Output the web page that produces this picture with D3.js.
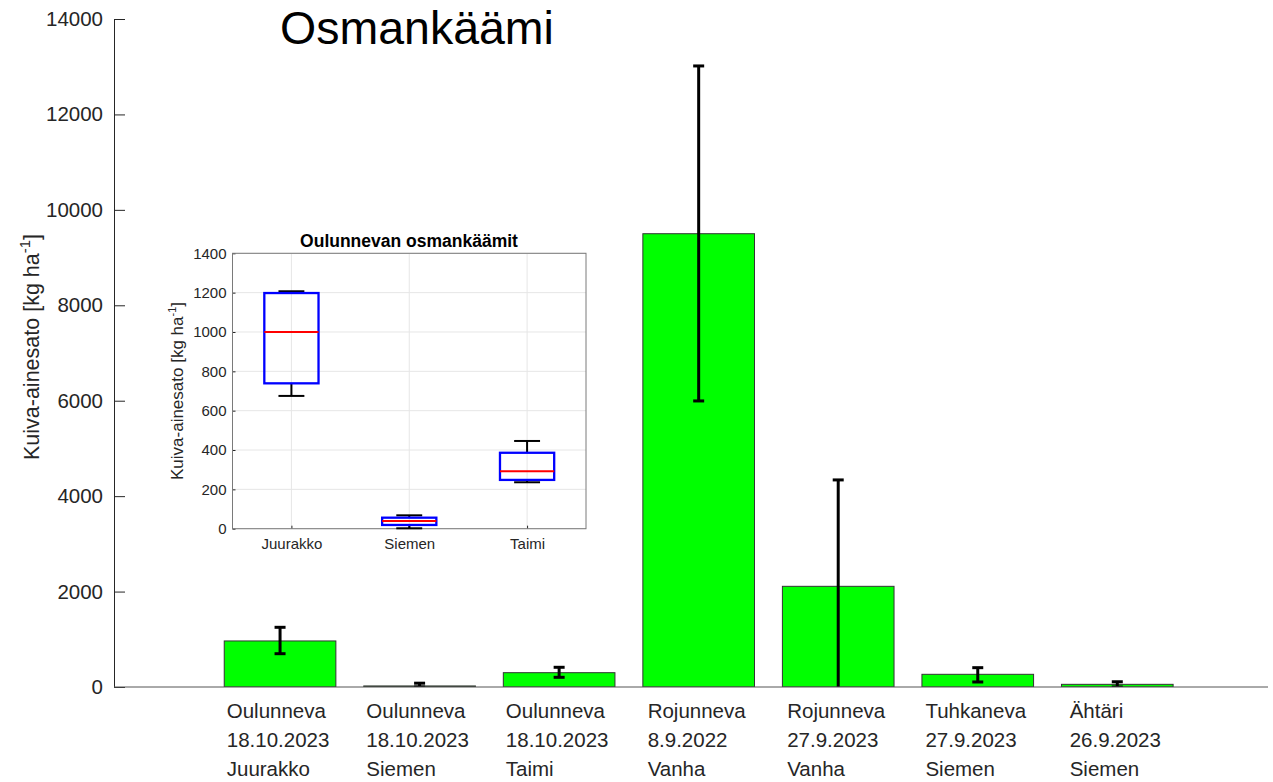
<!DOCTYPE html>
<html>
<head>
<meta charset="utf-8">
<script src="https://cdn.jsdelivr.net/npm/d3@7"></script>
<style>
  body { margin: 0; background: #fff; }
  text { font-family: "Liberation Sans", Arial, sans-serif; }
</style>
</head>
<body>
<svg id="Target" width="1273" height="782"></svg>
<script>

// main bar chart data
const sites = ["Oulunneva", "Oulunneva", "Oulunneva", "Rojunneva", "Rojunneva", "Tuhkaneva", "Ähtäri"];
const dates = ["18.10.2023", "18.10.2023", "18.10.2023", "8.9.2022", "27.9.2023", "27.9.2023", "26.9.2023"];
const types = ["Juurakko", "Siemen", "Taimi", "Vanha", "Vanha", "Siemen", "Siemen"];
const yields = [965, 22, 300, 9500, 2110, 266, 56];
const errLow = [698, 0, 203, 5995, -120, 105, 0];
const errHigh = [1251, 80, 413, 13016, 4340, 405, 110];
const yTicks = [0, 2000, 4000, 6000, 8000, 10000, 12000, 14000];

// inset box plot data
const boxCats = ["Juurakko", "Siemen", "Taimi"];
const boxMin = [675, 2, 236];
const boxQ1 = [739, 19, 248];
const boxMed = [1000, 39, 292];
const boxQ3 = [1198, 56, 386];
const boxMax = [1207, 68, 446];
const insetTicks = [0, 200, 400, 600, 800, 1000, 1200, 1400];

const svg = d3.select("#Target");
const axisColor = "#262626";

const x = d3.scaleLinear().domain([-0.19, 8.08]).range([114, 1268]);
const y = d3.scaleLinear().domain([0, 14000]).range([687, 19]);
const barW = x(0.8) - x(0);

svg.append("defs").append("clipPath")
    .attr("id", "plotClip")
    .append("rect")
    .attr("x", 114).attr("y", 0)
    .attr("width", 1268 - 114).attr("height", 687);

// bars
const plot = svg.append("g").attr("clip-path", "url(#plotClip)");

plot.selectAll("rect.bar")
    .data(yields)
    .enter()
    .append("rect")
    .attr("class", "bar")
    .attr("x", (d, i) => x(i + 1) - barW / 2)
    .attr("width", barW)
    .attr("y", d => y(d))
    .attr("height", d => y(0) - y(d))
    .attr("fill", "#00ff00")
    .attr("stroke", "#333")
    .attr("stroke-width", 1);

// error bars
const err = plot.selectAll("g.err")
    .data(yields)
    .enter()
    .append("g")
    .attr("stroke", "#000")
    .attr("stroke-width", 3);

err.append("line")
    .attr("x1", (d, i) => x(i + 1))
    .attr("x2", (d, i) => x(i + 1))
    .attr("y1", (d, i) => y(errLow[i]))
    .attr("y2", (d, i) => y(errHigh[i]));

err.append("line")
    .attr("x1", (d, i) => x(i + 1) - 5.5)
    .attr("x2", (d, i) => x(i + 1) + 5.5)
    .attr("y1", (d, i) => y(errHigh[i]))
    .attr("y2", (d, i) => y(errHigh[i]));

err.append("line")
    .attr("x1", (d, i) => x(i + 1) - 5.5)
    .attr("x2", (d, i) => x(i + 1) + 5.5)
    .attr("y1", (d, i) => y(errLow[i]))
    .attr("y2", (d, i) => y(errLow[i]));

// y axis
const yAxis = svg.append("g")
    .attr("transform", "translate(114,0)")
    .call(d3.axisLeft(y).tickValues(yTicks).tickSize(-11).tickPadding(11).tickFormat(d3.format("d")));

yAxis.select(".domain").attr("stroke", axisColor);
yAxis.selectAll(".tick line").attr("stroke", axisColor);
yAxis.selectAll(".tick text")
    .attr("font-size", 20.5)
    .attr("fill", axisColor)
    .attr("font-family", "Liberation Sans, Arial, sans-serif");

// x axis line
svg.append("line")
    .attr("x1", 114).attr("x2", 1268)
    .attr("y1", y(0)).attr("y2", y(0))
    .attr("stroke", "#555")
    .attr("stroke-width", 1);

// x labels, three lines left aligned as a block
const labelGroups = svg.selectAll("g.xlabel")
    .data(sites)
    .enter()
    .append("g")
    .attr("class", "xlabel");

labelGroups.each(function (d, i) {
    const g = d3.select(this);
    const lines = [sites[i], dates[i], types[i]];
    const texts = lines.map((t, k) => g.append("text")
        .text(t)
        .attr("y", 718 + k * 29)
        .attr("font-size", 20.5)
        .attr("fill", axisColor));
    const w = d3.max(texts, t => t.node().getComputedTextLength());
    texts.forEach(t => t.attr("x", x(i + 1) - w / 2 - 2));
});

// y label
const yLabel = svg.append("text")
    .attr("transform", "translate(39,347) rotate(-90)")
    .attr("text-anchor", "middle")
    .attr("font-size", 21.5)
    .attr("fill", axisColor)
    .text("Kuiva-ainesato [kg ha");

yLabel.append("tspan").attr("dy", -9).attr("font-size", 15).text("-1");
yLabel.append("tspan").attr("dy", 9).text("]");

// title
svg.append("text")
    .attr("x", 280)
    .attr("y", 44)
    .attr("font-family", "Open Sans, Noto Sans, sans-serif")
    .attr("font-size", 46.5)
    .attr("fill", "#000")
    .text("Osmankäämi");

// inset box plot
const ix = d3.scaleLinear().domain([0.5, 3.5]).range([232.5, 586]);
const iy = d3.scaleLinear().domain([0, 1400]).range([528.7, 253.3]);

const inset = svg.append("g");

inset.append("rect")
    .attr("x", 232.5).attr("y", 253.3)
    .attr("width", 586 - 232.5).attr("height", 528.7 - 253.3)
    .attr("fill", "#fff");

inset.selectAll("line.hgrid")
    .data(insetTicks)
    .enter()
    .append("line")
    .attr("x1", 232.5).attr("x2", 586)
    .attr("y1", d => iy(d)).attr("y2", d => iy(d))
    .attr("stroke", "#e6e6e6");

inset.selectAll("line.vgrid")
    .data(boxCats)
    .enter()
    .append("line")
    .attr("x1", (d, i) => ix(i + 1)).attr("x2", (d, i) => ix(i + 1))
    .attr("y1", 253.3).attr("y2", 528.7)
    .attr("stroke", "#e6e6e6");

const iyAxis = inset.append("g")
    .attr("transform", "translate(232.5,0)")
    .call(d3.axisLeft(iy).tickValues(insetTicks).tickSize(-3).tickPadding(6).tickFormat(d3.format("d")));

iyAxis.select(".domain").remove();
iyAxis.selectAll(".tick line").attr("stroke", axisColor);
iyAxis.selectAll(".tick text")
    .attr("font-size", 15)
    .attr("fill", axisColor)
    .attr("font-family", "Liberation Sans, Arial, sans-serif");

const ixAxis = inset.append("g")
    .attr("transform", "translate(0,528.7)")
    .call(d3.axisBottom(ix).tickValues([1, 2, 3]).tickSize(-3).tickPadding(10)
        .tickFormat((d) => boxCats[d - 1]));

ixAxis.select(".domain").remove();
ixAxis.selectAll(".tick line").attr("stroke", axisColor);
ixAxis.selectAll(".tick text")
    .attr("font-size", 15)
    .attr("fill", axisColor)
    .attr("font-family", "Liberation Sans, Arial, sans-serif");

inset.append("rect")
    .attr("x", 232.5).attr("y", 253.3)
    .attr("width", 586 - 232.5).attr("height", 528.7 - 253.3)
    .attr("fill", "none")
    .attr("stroke", "#7a7a7a")
    .attr("stroke-width", 1);

const boxW = ix(0.46) - ix(0);
const capW = ix(0.22) - ix(0);

const boxes = inset.selectAll("g.box")
    .data(boxCats)
    .enter()
    .append("g")
    .attr("class", "box");

boxes.append("line")
    .attr("x1", (d, i) => ix(i + 1)).attr("x2", (d, i) => ix(i + 1))
    .attr("y1", (d, i) => iy(boxQ3[i])).attr("y2", (d, i) => iy(boxMax[i]))
    .attr("stroke", "#000").attr("stroke-width", 2);

boxes.append("line")
    .attr("x1", (d, i) => ix(i + 1)).attr("x2", (d, i) => ix(i + 1))
    .attr("y1", (d, i) => iy(boxQ1[i])).attr("y2", (d, i) => iy(boxMin[i]))
    .attr("stroke", "#000").attr("stroke-width", 2);

boxes.append("line")
    .attr("x1", (d, i) => ix(i + 1) - capW / 2).attr("x2", (d, i) => ix(i + 1) + capW / 2)
    .attr("y1", (d, i) => iy(boxMax[i])).attr("y2", (d, i) => iy(boxMax[i]))
    .attr("stroke", "#000").attr("stroke-width", 2);

boxes.append("line")
    .attr("x1", (d, i) => ix(i + 1) - capW / 2).attr("x2", (d, i) => ix(i + 1) + capW / 2)
    .attr("y1", (d, i) => iy(boxMin[i])).attr("y2", (d, i) => iy(boxMin[i]))
    .attr("stroke", "#000").attr("stroke-width", 2);

boxes.append("rect")
    .attr("x", (d, i) => ix(i + 1) - boxW / 2)
    .attr("width", boxW)
    .attr("y", (d, i) => iy(boxQ3[i]))
    .attr("height", (d, i) => iy(boxQ1[i]) - iy(boxQ3[i]))
    .attr("fill", "none")
    .attr("stroke", "#0000ff")
    .attr("stroke-width", 2.3);

boxes.append("line")
    .attr("x1", (d, i) => ix(i + 1) - boxW / 2).attr("x2", (d, i) => ix(i + 1) + boxW / 2)
    .attr("y1", (d, i) => iy(boxMed[i])).attr("y2", (d, i) => iy(boxMed[i]))
    .attr("stroke", "#ff0000").attr("stroke-width", 2);

// inset title
inset.append("text")
    .attr("x", 409)
    .attr("y", 246.5)
    .attr("text-anchor", "middle")
    .attr("font-size", 17.5)
    .attr("font-weight", "bold")
    .attr("fill", "#000")
    .text("Oulunnevan osmankäämit");

// inset y label
const iLabel = inset.append("text")
    .attr("transform", "translate(183,391) rotate(-90)")
    .attr("text-anchor", "middle")
    .attr("font-size", 17)
    .attr("fill", axisColor)
    .text("Kuiva-ainesato [kg ha");

iLabel.append("tspan").attr("dy", -7).attr("font-size", 11).text("-1");
iLabel.append("tspan").attr("dy", 7).text("]");

</script>
</body>
</html>
